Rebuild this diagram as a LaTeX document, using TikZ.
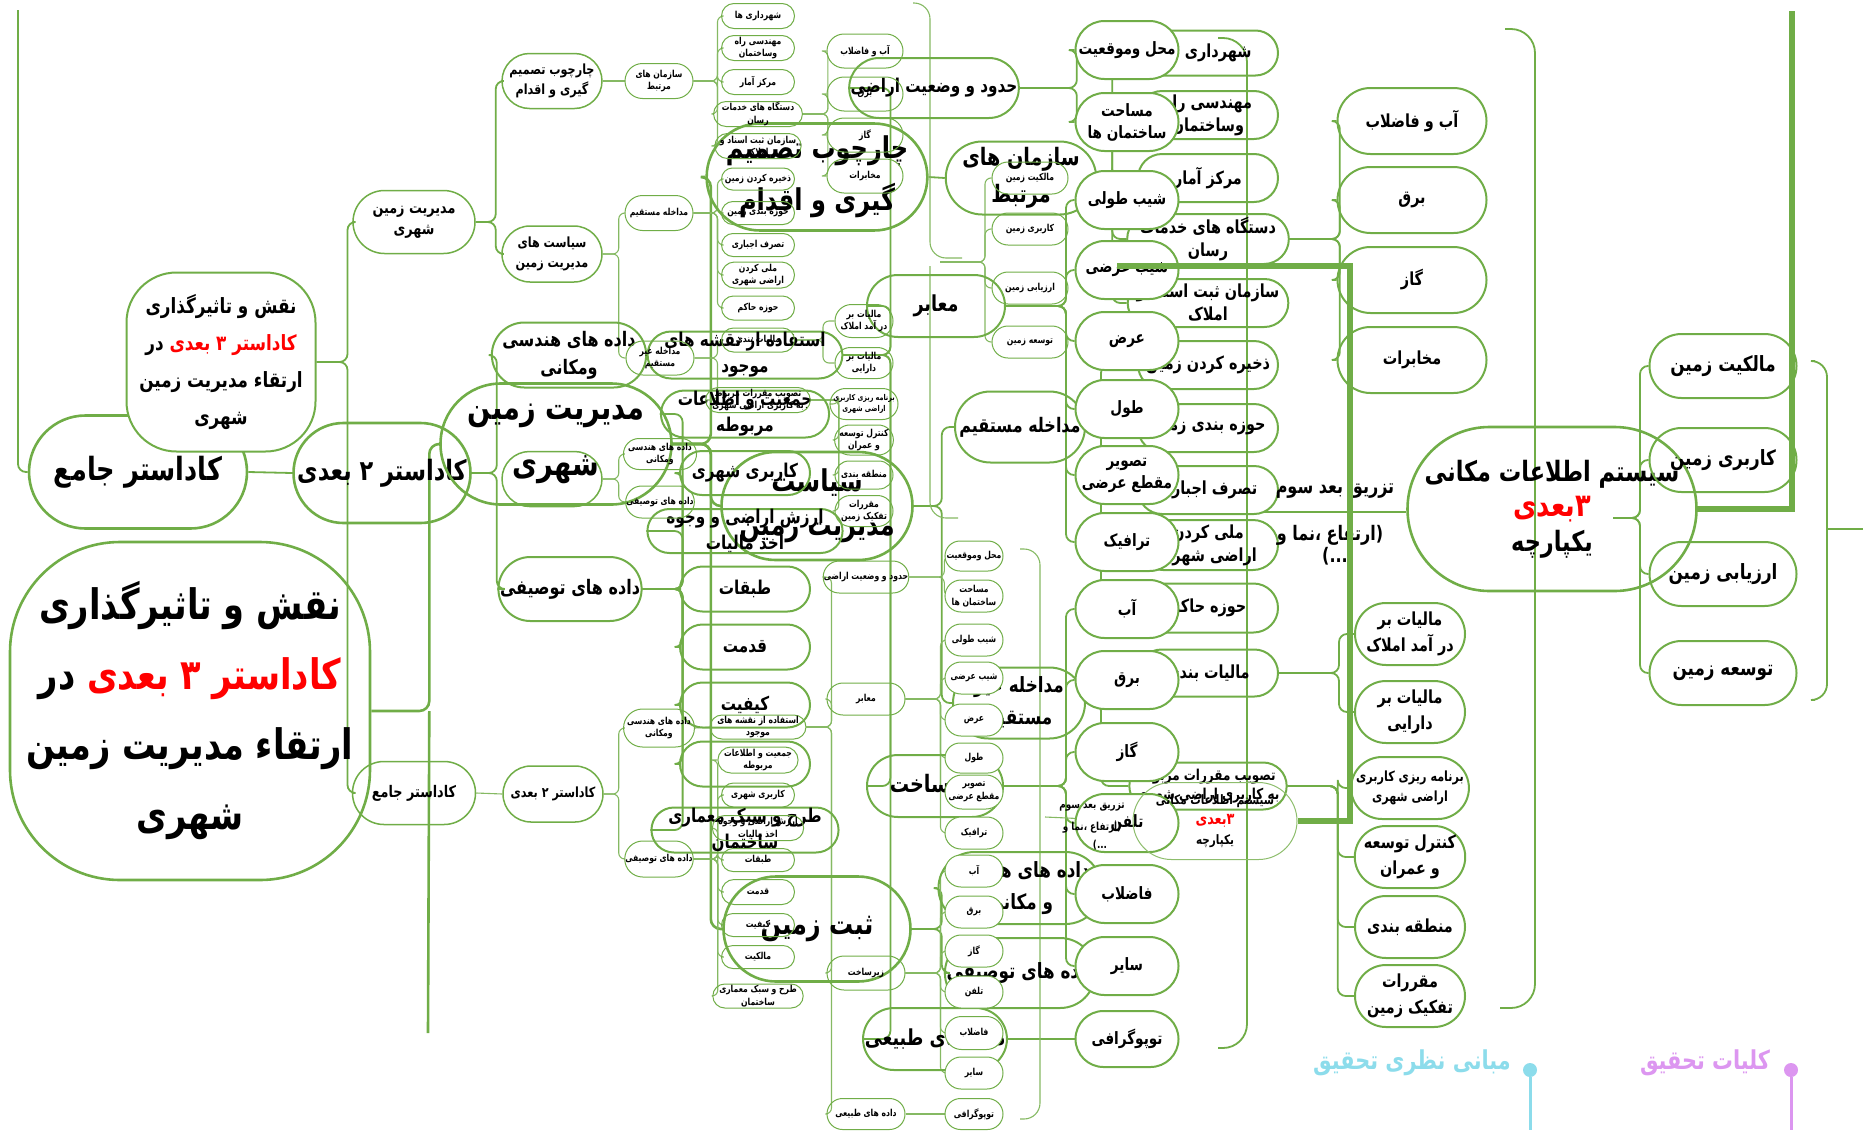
\documentclass[tikz,border=0pt]{standalone}
\usepackage{fontspec}
\usetikzlibrary{shapes.misc,backgrounds}
\TeXXeTstate=1
\newfontfamily\fa{DejaVu Sans}[Script=Arabic,FakeStretch=0.8]
\definecolor{mygreen}{RGB}{112,173,71}
\definecolor{legcyan}{RGB}{140,220,235}
\definecolor{legviolet}{RGB}{220,150,240}
\newcommand\rl[1]{\beginR#1\endR}
\newcommand\redrl[1]{\textcolor{red}{\rl{#1}}}
\newcommand\fsz[2]{\fontsize{#1}{#2}\selectfont}
\tikzset{
  boxbase/.style 2 args={rounded rectangle, inner sep=0pt, align=center,
    minimum width=#1*0.5pt, minimum height=#2*0.5pt},
  bigbox/.style 2 args={boxbase={#1}{#2}, draw=mygreen, line width=1.3pt, font=\fa\bfseries\fsz{15}{19}},
  midbox/.style 2 args={boxbase={#1}{#2}, draw=mygreen, line width=1pt, font=\fa\bfseries\fsz{9}{11.5}},
  smallbox/.style 2 args={boxbase={#1}{#2}, draw=mygreen, line width=0.75pt, font=\fa\bfseries\fsz{8}{10.5}},
  tinybox/.style 2 args={boxbase={#1}{#2}, draw=mygreen, line width=0.5pt, font=\fa\bfseries\fsz{4.8}{6.2}},
  link/.style={draw=mygreen, line width=0.9pt, rounded corners=4pt},
  biglink/.style={draw=mygreen, line width=1.3pt, rounded corners=5pt},
  thinlink/.style={draw=mygreen!85, line width=0.55pt, rounded corners=3pt},
  fatlink/.style={draw=mygreen, line width=3pt},
  label text/.style={font=\fa\bfseries\fsz{10}{12}, inner sep=0pt},
}
\begin{document}
\begin{tikzpicture}[x=0.5pt,y=-0.5pt]
\useasboundingbox (0,0) rectangle (1863,1130);

% --- big layer
\node[draw=mygreen, line width=1.3pt, rounded corners=55pt, minimum width=180pt, minimum height=169pt,
  align=center, inner sep=0pt, font=\fa\bfseries\fsz{21}{35}] (title) at (190,711)
  {\rl{نقش و تاثیرگذاری}\\\rl{در} \redrl{کاداستر ۳ بعدی}\\\rl{ارتقاء مدیریت زمین}\\\rl{شهری}};
\node[bigbox={218}{113}, font=\fa\bfseries\fsz{16}{20}] (kjBig) at (138,472) {\rl{کاداستر جامع}};
\node[bigbox={177}{100}, font=\fa\bfseries\fsz{14}{18}] (k2Big) at (382,473) {\rl{کاداستر ۲ بعدی}};
\node[draw=mygreen, line width=1pt, fill=white, rounded corners=25pt, minimum width=94.5pt, minimum height=89.5pt,
  align=center, inner sep=0pt, font=\fa\bfseries\fsz{10.5}{18.5}] (medTitle) at (221,362)
  {\rl{نقش و تاثیرگذاری}\\\rl{در} \redrl{کاداستر ۳ بعدی}\\\rl{ارتقاء مدیریت زمین}\\\rl{شهری}};
\node[bigbox={231}{121}, font=\fa\bfseries\fsz{17}{28}] (mzBig) at (556,444) {\rl{مدیریت زمین}\\\rl{شهری}};
\node[bigbox={190}{107}, font=\fa\bfseries\fsz{15}{26}] (chBig) at (817,177) {\rl{چارچوب تصمیم}\\\rl{گیری و اقدام}};
\node[bigbox={191}{108}, font=\fa\bfseries\fsz{15}{22}] (siBig) at (817,506) {\rl{سیاست}\\\rl{مدیریت زمین}};
\node[bigbox={187}{105}] (sabtBig) at (817,929) {\rl{ثبت زمین}};
\node[bigbox={289}{164}, font=\fa\bfseries\fsz{14}{17.5}] (sysBig) at (1552,509)
  {\rl{سیستم اطلاعات مکانی}\\{\fsz{16}{17.5}\redrl{۳بعدی}}\\\rl{یکپارچه}};

\node[midbox={118}{65}, font=\fa\bfseries\fsz{10}{14}] (dhBig) at (569,355) {\rl{داده های هندسی}\\\rl{ومکانی}};
\node[midbox={120}{64}, font=\fa\bfseries\fsz{10}{14}] (dtBig) at (570,589) {\rl{داده های توصیفی}};
\node[midbox={130}{47}, font=\fa\bfseries\fsz{9.5}{13}] (estA) at (745,355) {\rl{استفاده از نقشه های}\\\rl{موجود}};
\node[midbox={130}{47}, font=\fa\bfseries\fsz{9.5}{13}] (jamA) at (745,414) {\rl{جمعیت و اطلاعات}\\\rl{مربوطه}};
\node[midbox={130}{44}, font=\fa\bfseries\fsz{9.5}{13}] (karA) at (745,473) {\rl{کاربری شهری}};
\node[midbox={130}{44}, font=\fa\bfseries\fsz{9.5}{13}] (arzA) at (745,531) {\rl{ارزش اراضی و وجوه}\\\rl{اخذ مالیات}};
\node[midbox={130}{45}, font=\fa\bfseries\fsz{9.5}{13}] (tabA) at (745,589) {\rl{طبقات}};
\node[midbox={130}{45}, font=\fa\bfseries\fsz{9.5}{13}] (qedA) at (745,647) {\rl{قدمت}};
\node[midbox={130}{45}, font=\fa\bfseries\fsz{9.5}{13}] (keyA) at (745,705) {\rl{کیفیت}};
\node[midbox={130}{45}] (emptyA) at (745,764) {};
\node[midbox={130}{45}, font=\fa\bfseries\fsz{9.5}{13}] (tarhA) at (745,830) {\rl{طرح و سبک معماری}\\\rl{ساختمان}};

\node[midbox={138}{60}, font=\fa\bfseries\fsz{9.5}{12}] (hodA) at (934,88) {\rl{حدود و وضعیت اراضی}};
\node[midbox={138}{62}, font=\fa\bfseries\fsz{11}{13}] (maaA) at (936,306) {\rl{معابر}};
\node[midbox={136}{62}, font=\fa\bfseries\fsz{12}{14}] (zirA) at (935,786) {\rl{زیرساخت}};
\node[midbox={136}{62}, font=\fa\bfseries\fsz{11}{13}] (tabiA) at (935,1039) {\rl{داده های طبیعی}};
\node[midbox={128}{73}, font=\fa\bfseries\fsz{12}{18.5}] (sazA) at (1021,178) {\rl{سازمان های}\\\rl{مرتبط}};
\node[midbox={130}{71}, font=\fa\bfseries\fsz{10}{13}] (modA) at (1020,427) {\rl{مداخله مستقیم}};
\node[midbox={132}{71}, font=\fa\bfseries\fsz{10.5}{16}] (modgA) at (1019,703) {\rl{مداخله غیر}\\\rl{مستقیم}};
\node[midbox={130}{72}, font=\fa\bfseries\fsz{10.5}{16}] (dhA2) at (1020,888) {\rl{داده های هندسی}\\\rl{و مکانی}};
\node[midbox={130}{70}, font=\fa\bfseries\fsz{10.5}{13}] (dtA2) at (1020,973) {\rl{داده های توصیفی}};

% column of organisations and measures
\node[midbox={140}{45}] (shahrM) at (1208,53) {\rl{شهرداری ها}};
\node[midbox={140}{48}] (mohanM) at (1208,115) {\rl{مهندسی راه}\\\rl{وساختمان}};
\node[midbox={140}{48}] (markazM) at (1208,178) {\rl{مرکز آمار}};
\node[midbox={140}{50}] (dastgM) at (1208,239) {\rl{دستگاه های خدمات}\\\rl{رسان}};
\node[midbox={140}{48}] (sabtM) at (1208,303) {\rl{سازمان ثبت اسناد و}\\\rl{املاک}};
\node[midbox={140}{48}] (zakhM) at (1208,365) {\rl{ذخیره کردن زمین}};
\node[midbox={140}{48}] (hozebM) at (1208,428) {\rl{حوزه بندی زمین}};
\node[midbox={140}{48}] (tasarM) at (1208,490) {\rl{تصرف اجباری}};
\node[midbox={140}{50}] (meliM) at (1208,545) {\rl{ملی کردن}\\\rl{اراضی شهری}};
\node[midbox={140}{49}] (hakemM) at (1208,608) {\rl{حوزه حاکم}};
\node[midbox={140}{47}] (maliatM) at (1208,673) {\rl{مالیات بندی}};
\node[midbox={140}{47}, font=\fa\bfseries\fsz{7.5}{9.5}] (tasvibM) at (1208,786) {\rl{تصویب مقررات مربوط}\\\rl{به کاربری اراضی شهری}};

\node[midbox={103}{58}, fill=white, font=\fa\bfseries\fsz{8.5}{11}] (mahalM) at (1127,50) {\rl{محل وموقعیت}};
\node[midbox={103}{58}, fill=white, font=\fa\bfseries\fsz{8.5}{11}] (masaM) at (1127,122) {\rl{مساحت}\\\rl{ساختمان ها}};
\node[midbox={103}{58}, fill=white, font=\fa\bfseries\fsz{8.5}{11}] (shibtM) at (1127,200) {\rl{شیب طولی}};
\node[midbox={103}{58}, fill=white, font=\fa\bfseries\fsz{8.5}{11}] (shibarM) at (1127,270) {\rl{شیب عرضی}};
\node[midbox={103}{58}, fill=white, font=\fa\bfseries\fsz{8.5}{11}] (arzM) at (1127,341) {\rl{عرض}};
\node[midbox={103}{58}, fill=white, font=\fa\bfseries\fsz{8.5}{11}] (toolM) at (1127,409) {\rl{طول}};
\node[midbox={103}{58}, fill=white, font=\fa\bfseries\fsz{8.5}{11}] (tasvM) at (1127,475) {\rl{تصویر}\\\rl{مقطع عرضی}};
\node[midbox={103}{58}, fill=white, font=\fa\bfseries\fsz{8.5}{11}] (trafM) at (1127,542) {\rl{ترافیک}};
\node[midbox={103}{58}, fill=white, font=\fa\bfseries\fsz{8.5}{11}] (abM) at (1127,609) {\rl{آب}};
\node[midbox={103}{58}, fill=white, font=\fa\bfseries\fsz{8.5}{11}] (barghM) at (1127,680) {\rl{برق}};
\node[midbox={103}{58}, fill=white, font=\fa\bfseries\fsz{8.5}{11}] (gazM) at (1127,752) {\rl{گاز}};
\node[midbox={103}{58}, fill=white, font=\fa\bfseries\fsz{8.5}{11}] (telM) at (1127,823) {\rl{تلفن}};
\node[midbox={103}{58}, fill=white, font=\fa\bfseries\fsz{8.5}{11}] (fazM) at (1127,894) {\rl{فاضلاب}};
\node[midbox={103}{58}, fill=white, font=\fa\bfseries\fsz{8.5}{11}] (saM) at (1127,966) {\rl{سایر}};
\node[midbox={103}{56}, fill=white, font=\fa\bfseries\fsz{8.5}{11}] (topM) at (1127,1039) {\rl{توپوگرافی}};

\node[midbox={149}{66}] (abfM) at (1412,121) {\rl{آب و فاضلاب}};
\node[midbox={149}{66}] (barqM) at (1412,200) {\rl{برق}};
\node[midbox={149}{66}] (gazAM) at (1412,280) {\rl{گاز}};
\node[midbox={149}{66}] (mokhM) at (1412,360) {\rl{مخابرات}};

\node[midbox={110}{62}, font=\fa\bfseries\fsz{9}{13}] (mdarM) at (1410,634) {\rl{مالیات بر}\\\rl{در آمد املاک}};
\node[midbox={110}{62}, font=\fa\bfseries\fsz{9}{13}] (mdaraM) at (1410,712) {\rl{مالیات بر}\\\rl{دارایی}};
\node[midbox={110}{62}, font=\fa\bfseries\fsz{7}{10}] (barnM) at (1410,788) {\rl{برنامه ریزی کاربری}\\\rl{اراضی شهری}};
\node[midbox={110}{62}, font=\fa\bfseries\fsz{9}{13}] (kontM) at (1410,857) {\rl{کنترل توسعه}\\\rl{و عمران}};
\node[midbox={110}{62}, font=\fa\bfseries\fsz{9}{13}] (mantM) at (1410,927) {\rl{منطقه بندی}};
\node[midbox={110}{62}, font=\fa\bfseries\fsz{9}{13}] (moqrM) at (1410,996) {\rl{مقررات}\\\rl{تفکیک زمین}};

\node[midbox={147}{64}, font=\fa\bfseries\fsz{10.5}{13}] (malekM) at (1723,366) {\rl{مالکیت زمین}};
\node[midbox={147}{64}, font=\fa\bfseries\fsz{10.5}{13}] (karbarM) at (1723,460) {\rl{کاربری زمین}};
\node[midbox={147}{64}, font=\fa\bfseries\fsz{10.5}{13}] (arzyabM) at (1723,574) {\rl{ارزیابی زمین}};
\node[midbox={147}{64}, font=\fa\bfseries\fsz{10.5}{13}] (toseM) at (1723,673) {\rl{توسعه زمین}};

\node[label text] (taz1) at (1335,491) {\rl{تزریق بعد سوم}};
\node[label text] (taz2) at (1330,535) {\rl{(ارتفاع ،نما و}};
\node[label text] (taz3) at (1335,556) {\rl{...)}};
\coordinate (tazL) at (1263,512);

% --- small layer
\node[smallbox={122}{63}] (mzS) at (414,222) {\rl{مدیریت زمین}\\\rl{شهری}};
\node[smallbox={123}{63}] (kjS) at (414,793) {\rl{کاداستر جامع}};
\node[smallbox={100}{55}, font=\fa\bfseries\fsz{7}{10}] (chS) at (552,81) {\rl{چارچوب تصمیم}\\\rl{گیری و اقدام}};
\node[smallbox={100}{56}, font=\fa\bfseries\fsz{7}{10}] (siS) at (552,254) {\rl{سیاست های}\\\rl{مدیریت زمین}};
\node[smallbox={100}{55}] (emptyS) at (552,479) {};
\node[smallbox={100}{56}, font=\fa\bfseries\fsz{7}{10}] (k2S) at (553,794) {\rl{کاداستر ۲ بعدی}};

% --- tiny layer
\node[tinybox={68}{35}] (sazS) at (659,81) {\rl{سازمان های}\\\rl{مرتبط}};
\node[tinybox={68}{35}] (modS) at (659,213) {\rl{مداخله مستقیم}};
\node[tinybox={68}{34}] (modgS) at (660,358) {\rl{مداخله غیر}\\\rl{مستقیم}};
\node[tinybox={66}{31}] (dhS1) at (660,454) {\rl{داده های هندسی}\\\rl{ومکانی}};
\node[tinybox={66}{32}] (dtS1) at (660,502) {\rl{داده های توصیفی}};
\node[tinybox={68}{38}] (dhS) at (659,728) {\rl{داده های هندسی}\\\rl{ومکانی}};
\node[tinybox={68}{36}] (dtS) at (659,859) {\rl{داده های توصیفی}};

\node[tinybox={73}{25}] (shahr) at (758,16) {\rl{شهرداری ها}};
\node[tinybox={73}{25}] (mohan) at (758,48) {\rl{مهندسی راه}\\\rl{وساختمان}};
\node[tinybox={73}{25}] (markaz) at (758,82) {\rl{مرکز آمار}};
\node[tinybox={73}{25}] (dastg) at (758,114) {\rl{دستگاه های خدمات}\\\rl{رسان}};
\node[tinybox={73}{25}] (sabtS) at (758,146) {\rl{سازمان ثبت اسناد و}\\\rl{املاک}};
\node[tinybox={73}{22}] (zakh) at (758,179) {\rl{ذخیره کردن زمین}};
\node[tinybox={73}{23}] (hozeb) at (758,213) {\rl{حوزه بندی زمین}};
\node[tinybox={73}{23}] (tasar) at (758,245) {\rl{تصرف اجباری}};
\node[tinybox={73}{26}] (meli) at (758,275) {\rl{ملی کردن}\\\rl{اراضی شهری}};
\node[tinybox={73}{24}] (hakem) at (758,308) {\rl{حوزه حاکم}};
\node[tinybox={73}{24}] (maliat) at (758,340) {\rl{مالیات بندی}};
\node[tinybox={73}{25}] (tasvib) at (758,400) {\rl{تصویب مقررات مربوط}\\\rl{به کاربری اراضی شهری}};

\node[tinybox={76}{34}] (abfS) at (865,51) {\rl{آب و فاضلاب}};
\node[tinybox={76}{34}] (barqS) at (865,94) {\rl{برق}};
\node[tinybox={76}{34}] (gazS) at (865,135) {\rl{گاز}};
\node[tinybox={76}{34}] (mokhS) at (865,176) {\rl{مخابرات}};

\node[tinybox={58}{33}] (mdarS) at (864,321) {\rl{مالیات بر}\\\rl{در آمد املاک}};
\node[tinybox={58}{31}] (mdaraS) at (864,363) {\rl{مالیات بر}\\\rl{دارایی}};
\node[tinybox={58}{31}, font=\fa\bfseries\fsz{4}{5.5}] (barnS) at (864,404) {\rl{برنامه ریزی کاربری}\\\rl{اراضی شهری}};
\node[tinybox={58}{30}] (kontS) at (864,440) {\rl{کنترل توسعه}\\\rl{و عمران}};
\node[tinybox={58}{28}] (mantS) at (864,475) {\rl{منطقه بندی}};
\node[tinybox={58}{31}] (moqrS) at (864,511) {\rl{مقررات}\\\rl{تفکیک زمین}};

\node[tinybox={73}{24}] (estS) at (758,727) {\rl{استفاده از نقشه های}\\\rl{موجود}};
\node[tinybox={73}{26}] (jamS) at (758,760) {\rl{جمعیت و اطلاعات}\\\rl{مربوطه}};
\node[tinybox={73}{24}] (karS) at (758,795) {\rl{کاربری شهری}};
\node[tinybox={73}{25}] (arzS) at (758,828) {\rl{ارزش اراضی و وجوه}\\\rl{اخذ مالیات}};
\node[tinybox={73}{23}] (tabS) at (758,860) {\rl{طبقات}};
\node[tinybox={73}{25}] (qedS) at (758,892) {\rl{قدمت}};
\node[tinybox={73}{23}] (keyS) at (758,925) {\rl{کیفیت}};
\node[tinybox={73}{23}] (malS) at (758,957) {\rl{مالکیت}};
\node[tinybox={73}{24}] (tarhS) at (758,996) {\rl{طرح و سبک معماری}\\\rl{ساختمان}};

\node[tinybox={78}{32}] (hodS) at (866,577) {\rl{حدود و وضعیت اراضی}};
\node[tinybox={78}{32}] (maaS) at (866,699) {\rl{معابر}};
\node[tinybox={78}{34}] (zirS) at (866,973) {\rl{زیرساخت}};
\node[tinybox={78}{31}] (tabiS) at (866,1114) {\rl{داده های طبیعی}};

\node[tinybox={76}{32}] (malekS) at (1030,178) {\rl{مالکیت زمین}};
\node[tinybox={76}{32}] (karbarS) at (1030,229) {\rl{کاربری زمین}};
\node[tinybox={76}{32}] (arzyabS) at (1030,288) {\rl{ارزیابی زمین}};
\node[tinybox={76}{32}] (toseS) at (1030,342) {\rl{توسعه زمین}};

\node[tinybox={58}{30}, fill=white] (mahalT) at (974,556) {\rl{محل وموقعیت}};
\node[tinybox={58}{32}, fill=white] (masaT) at (974,596) {\rl{مساحت}\\\rl{ساختمان ها}};
\node[tinybox={58}{32}, fill=white] (shibtT) at (974,640) {\rl{شیب طولی}};
\node[tinybox={58}{32}, fill=white] (shibarT) at (974,678) {\rl{شیب عرضی}};
\node[tinybox={58}{32}, fill=white] (arzT) at (974,720) {\rl{عرض}};
\node[tinybox={58}{30}, fill=white] (toolT) at (974,758) {\rl{طول}};
\node[tinybox={58}{34}, fill=white] (tasvT) at (974,792) {\rl{تصویر}\\\rl{مقطع عرضی}};
\node[tinybox={58}{32}, fill=white] (trafT) at (974,833) {\rl{ترافیک}};
\node[tinybox={58}{32}, fill=white] (abT) at (974,871) {\rl{آب}};
\node[tinybox={58}{32}, fill=white] (barghT) at (974,912) {\rl{برق}};
\node[tinybox={58}{32}, fill=white] (gazT) at (974,951) {\rl{گاز}};
\node[tinybox={58}{32}, fill=white] (telT) at (974,992) {\rl{تلفن}};
\node[tinybox={58}{33}, fill=white] (fazT) at (974,1033) {\rl{فاضلاب}};
\node[tinybox={58}{32}, fill=white] (saT) at (974,1073) {\rl{سایر}};
\node[tinybox={58}{31}, fill=white] (topT) at (974,1114) {\rl{توپوگرافی}};

\node[boxbase={164}{77}, draw=mygreen!80, line width=0.5pt, font=\fa\bfseries\fsz{6.5}{10}] (sysS) at (1215,821)
  {\rl{سیستم اطلاعات مکانی}\\{\fsz{8}{10}\redrl{۳بعدی}}\\\rl{یکپارچه}};
\node[label text, font=\fa\bfseries\fsz{5.5}{7}] (tazS1) at (1092,807) {\rl{تزریق بعد سوم}};
\node[label text, font=\fa\bfseries\fsz{5.5}{7}] (tazS2) at (1092,828) {\rl{(ارتفاع ،نما و}};
\node[label text, font=\fa\bfseries\fsz{5.5}{7}] (tazS3) at (1100,845) {\rl{...)}};
\coordinate (tazSL) at (1045,817);

% legend
\node[text=legcyan, font=\fa\bfseries\fsz{13}{15}, inner sep=0pt] (mabani) at (1412,1063) {\rl{مبانی نظری تحقیق}};
\node[circle, fill=legcyan, minimum size=7pt, inner sep=0pt] (dotA) at (1530,1070) {};
\node[text=legviolet, font=\fa\bfseries\fsz{13}{15}, inner sep=0pt] (kolliat) at (1705,1063) {\rl{کلیات تحقیق}};
\node[circle, fill=legviolet, minimum size=7pt, inner sep=0pt] (dotB) at (1791,1070) {};
\coordinate (legA) at (1530,1130);
\coordinate (legB) at (1791,1130);

% free ends of the cut branches
\coordinate (topL) at (18,10);
\coordinate (tEnd) at (428,1033);
\coordinate (sysJ) at (1613,518);
\coordinate (sysMid) at (940,262);
\coordinate (b1a) at (913,3);
\coordinate (b1b) at (962,258);
\coordinate (b1c) at (930,266);
\coordinate (b1d) at (958,518);
\coordinate (b2a) at (1020,549);
\coordinate (b2b) at (1020,1119);
\coordinate (b3a) at (1218,38);
\coordinate (b3b) at (1218,1048);
\coordinate (b4a) at (1505,29);
\coordinate (b4b) at (1500,1008);
\coordinate (b5a) at (1815,361);
\coordinate (b5b) at (1815,700);
\coordinate (b5c) at (1863,529);
\coordinate (fat1) at (1117,266);
\coordinate (fat2) at (1792,11);

\begin{scope}[on background layer]
% big layer
\draw[link] (topL) |- (kjBig.west);
\draw[link] (kjBig.east) -- (k2Big.west);
\draw[biglink] (title.east) -- ++(58,0) coordinate (tJ) |- (mzBig.west);
\draw[biglink] (tJ) -- (tEnd);
\foreach \c in {mzS,kjS} \draw[link] (medTitle.east) -- ++(31,0) |- (\c.west);
\foreach \c in {chS,siS} \draw[link] (mzS.east) -- ++(20,0) |- (\c.west);
\foreach \c in {dhBig,dtBig} \draw[link] (k2Big.east) -- ++(25,0) |- (\c.west);
\foreach \c in {chBig,siBig,sabtBig} \draw[biglink] (mzBig.east) -- ++(38,0) |- (\c.west);
\draw[link] (dhBig.east) -- (estA.west);
\foreach \c in {jamA,karA,arzA,tabA,qedA,keyA,emptyA,tarhA} \draw[link] (dtBig.east) -- ++(40,0) |- (\c.west);
\foreach \c in {hodA,maaA,zirA,tabiA} \draw[link] (estA.east) -- ++(47,0) |- (\c.west);
\draw[link] (chBig.east) -- (sazA.west);
\foreach \c in {modA,modgA} \draw[link] (siBig.east) -- ++(28,0) |- (\c.west);
\foreach \c in {dhA2,dtA2} \draw[link] (sabtBig.east) -- ++(30,0) |- (\c.west);
\foreach \c in {shahrM,mohanM,markazM,dastgM,sabtM} \draw[link] (sazA.east) -- ++(15,0) |- (\c.west);
\foreach \c in {zakhM,hozebM,tasarM,meliM,hakemM} \draw[link] (modA.east) -- ++(15,0) |- (\c.west);
\foreach \c in {maliatM,tasvibM} \draw[link] (modgA.east) -- ++(15,0) |- (\c.west);
\foreach \c in {abfM,barqM,gazAM,mokhM} \draw[link] (dastgM.east) -- ++(50,0) |- (\c.west);
\foreach \c in {mdarM,mdaraM} \draw[link] (maliatM.east) -- ++(60,0) |- (\c.west);
\foreach \c in {barnM,kontM,mantM,moqrM} \draw[link] (tasvibM.east) -- ++(50,0) |- (\c.west);
\foreach \c in {mahalM,masaM} \draw[link] (hodA.east) -- ++(57,0) |- (\c.west);
\foreach \c in {shibtM,shibarM,arzM,toolM,tasvM,trafM} \draw[link] (maaA.east) -- ++(60,0) |- (\c.west);
\foreach \c in {abM,barghM,gazM,telM,fazM,saM} \draw[link] (zirA.east) -- ++(62,0) |- (\c.west);
\draw[link] (tabiA.east) -- (topM.west);
\foreach \c in {malekM,karbarM,arzyabM,toseM} \draw[link] (sysJ) -- ++(27,0) |- (\c.west);
\draw[link] (tazL) -- (tazL -| sysBig.west);
% cut branches
\draw[thinlink, rounded corners=8pt] (b1a) -- ++(17,0) |- (b1b);
\draw[thinlink, rounded corners=8pt] (b1c) |- (b1d);
\draw[thinlink, rounded corners=8pt] (b2a) -- ++(20,0) |- (b2b);
\draw[link, rounded corners=12pt] (b3a) -- ++(29,0) |- (b3b);
\draw[link, rounded corners=12pt] (b4a) -- ++(30,0) |- (b4b);
\draw[link, rounded corners=8pt] (b5a) -- ++(12,0) |- (b5b);
\draw[link] (b5c) -- ++(-36,0);
% small layer
\draw[thinlink] (chS.east) -- (sazS.west);
\foreach \c in {shahr,mohan,markaz,dastg,sabtS} \draw[thinlink] (sazS.east) -- ++(24,0) |- (\c.west);
\foreach \c in {modS,modgS} \draw[thinlink] (siS.east) -- ++(16,0) |- (\c.west);
\foreach \c in {zakh,hozeb,tasar,meli,hakem} \draw[thinlink] (modS.east) -- ++(24,0) |- (\c.west);
\foreach \c in {maliat,tasvib} \draw[thinlink] (modgS.east) -- ++(23,0) |- (\c.west);
\foreach \c in {abfS,barqS,gazS,mokhS} \draw[thinlink] (dastg.east) -- ++(25,0) |- (\c.west);
\foreach \c in {mdarS,mdaraS} \draw[thinlink] (maliat.east) -- ++(28,0) |- (\c.west);
\foreach \c in {barnS,kontS,mantS,moqrS} \draw[thinlink] (tasvib.east) -- ++(28,0) |- (\c.west);
\foreach \c in {dhS1,dtS1} \draw[thinlink] (emptyS.east) -- ++(16,0) |- (\c.west);
\draw[thinlink] (kjS.east) -- (k2S.west);
\foreach \c in {dhS,dtS} \draw[thinlink] (k2S.east) -- ++(15,0) |- (\c.west);
\draw[thinlink] (dhS.east) -- (estS.west);
\foreach \c in {jamS,karS,arzS,tabS,qedS,keyS,malS,tarhS} \draw[thinlink] (dtS.east) -- ++(24,0) |- (\c.west);
\foreach \c in {hodS,maaS,zirS,tabiS} \draw[thinlink] (estS.east) -- ++(25,0) |- (\c.west);
\foreach \c in {mahalT,masaT} \draw[thinlink] (hodS.east) -- ++(35,0) |- (\c.west);
\foreach \c in {shibtT,shibarT,arzT,toolT,tasvT,trafT} \draw[thinlink] (maaS.east) -- ++(35,0) |- (\c.west);
\foreach \c in {abT,barghT,gazT,telT,fazT,saT} \draw[thinlink] (zirS.east) -- ++(35,0) |- (\c.west);
\draw[thinlink] (tabiS.east) -- (topT.west);
\foreach \c in {malekS,karbarS,arzyabS,toseS} \draw[thinlink] (sysMid) -- ++(45,0) |- (\c.west);
\draw[thinlink] (tazSL) -- (sysS.west);
\end{scope}

% thick branches and legend stems
\draw[fatlink] (fat1) -- ++(233,0) |- (sysS.east);
\draw[fatlink] (fat2) |- (sysBig.east);
\draw[legcyan, line width=1.5pt] (dotA) -- (legA);
\draw[legviolet, line width=1.5pt] (dotB) -- (legB);
\end{tikzpicture}
\end{document}
